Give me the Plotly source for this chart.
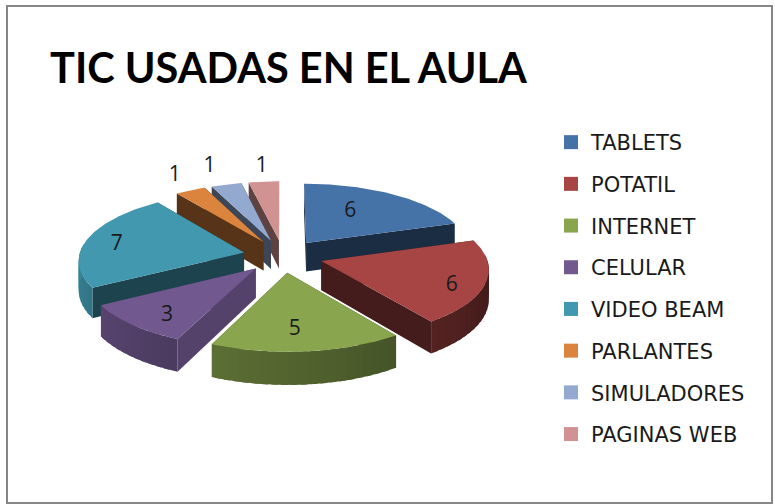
import numpy as np
import plotly.graph_objects as go

categories = ["TABLETS", "POTATIL", "INTERNET", "CELULAR", "VIDEO BEAM", "PARLANTES", "SIMULADORES", "PAGINAS WEB"]
values = [6, 6, 5, 3, 7, 1, 1, 1]
colors = ["#4572A7", "#A64543", "#89A54E", "#71588F", "#4198AF", "#DB843D", "#93A9CF", "#D19392"]
wall_shades = [0.40, 0.42, 0.45, 0.75, 0.45, 0.40, 0.42, 0.45]
label_radius = [96, 136, 122, 131, 131.5, 214, 224, 213]
label_angle = [30.3, 114.7, 177, 217.6, 278.7, 331.3, 341.2, 354.5]
title_text = "TIC USADAS EN EL AULA"

W, H = 775, 504
CX, CY, R, EXPL, K, P, DEPTH = 283, 256, 165, 40, 0.41, 0.10, 29


def project(wx, wy, z=0.0):
    wx, wy = np.asarray(wx, float), np.asarray(wy, float)
    f = 1 / (1 + P * wy / R)
    return CX + wx * f, CY - K * wy * f + z * f


def shade(hex_color, factor):
    r, g, b = (int(hex_color[i:i + 2], 16) for i in (1, 3, 5))
    return f"rgb({int(r * factor)},{int(g * factor)},{int(b * factor)})"


def polygon(xs, ys, color, name):
    return go.Scatter(x=list(xs) + [xs[0]], y=list(ys) + [ys[0]], mode="lines", fill="toself",
                      fillcolor=color, line=dict(color=color, width=0), name=name,
                      hoverinfo="skip", showlegend=False)


fractions = np.cumsum([0] + values) / sum(values) * 360
slices = []
for i, name in enumerate(categories):
    a0, a1 = fractions[i], fractions[i + 1]
    mid = np.radians((a0 + a1) / 2)
    slices.append((np.cos(mid), i, a0, a1, EXPL * np.sin(mid), EXPL * np.cos(mid)))
slices.sort(key=lambda s: -s[0])

fig = go.Figure()
for _, i, a0, a1, ax, ay in slices:
    name, col = categories[i], colors[i]
    th = np.radians(np.linspace(a0, a1, max(int(a1 - a0), 4) + 1))
    rim_x, rim_y = ax + R * np.sin(th), ay + R * np.cos(th)
    wall = shade(col, wall_shades[i])
    # radial walls
    for t in (th[0], th[-1]):
        ex, ey = ax + R * np.sin(t), ay + R * np.cos(t)
        x1, y1 = project([ax, ex], [ay, ey], 0)
        x2, y2 = project([ex, ax], [ey, ay], DEPTH)
        fig.add_trace(polygon(np.r_[x1, x2], np.r_[y1, y2], wall, name))
    # outer rim, shaded from dark (right) to lighter (left); segments overlap to hide seams
    for j in range(0, len(th) - 1, 3):
        seg = th[j:j + 6]
        mid_deg = np.degrees(th[j:j + 4].mean())
        if not 85 <= mid_deg <= 275:
            continue
        sx, sy = ax + R * np.sin(seg), ay + R * np.cos(seg)
        x1, y1 = project(sx, sy, 0)
        x2, y2 = project(sx[::-1], sy[::-1], DEPTH)
        fig.add_trace(polygon(np.r_[x1, x2], np.r_[y1, y2],
                              shade(col, 0.36 + 0.50 * (mid_deg - 90) / 180), name))
    # top face
    tx, ty = project(np.r_[ax, rim_x], np.r_[ay, rim_y], 0)
    fig.add_trace(polygon(tx, ty, col, name))

# value labels, placed from each slice's apex
lab_x, lab_y = [], []
for i, v in enumerate(values):
    a0, a1 = fractions[i], fractions[i + 1]
    mid = np.radians((a0 + a1) / 2)
    t = np.radians(label_angle[i])
    wx = EXPL * np.sin(mid) + label_radius[i] * np.sin(t)
    wy = EXPL * np.cos(mid) + label_radius[i] * np.cos(t)
    x, y = project(wx, wy)
    lab_x.append(float(x))
    lab_y.append(float(y))
fig.add_trace(go.Scatter(x=lab_x, y=lab_y, mode="text", text=[str(v) for v in values],
                         textposition="middle center", hoverinfo="skip", showlegend=False,
                         textfont=dict(family="Open Sans", size=21, color="#1a1a1a")))

# legend entries
for i, name in enumerate(categories):
    fig.add_trace(go.Scatter(x=[None], y=[None], mode="markers", name=name, legendgroup=name,
                             marker=dict(symbol="square", size=14, color=colors[i])))

fig.update_layout(
    width=W, height=H, margin=dict(l=0, r=0, t=0, b=0),
    paper_bgcolor="white", plot_bgcolor="white",
    title=dict(text=f"<b>{title_text}</b>", x=50 / W, xanchor="left", xref="paper",
               y=1 - 68 / H, yanchor="middle", yref="paper",
               font=dict(family="Lato", size=41.5, color="black")),
    xaxis=dict(range=[0, W], visible=False, fixedrange=True),
    yaxis=dict(range=[H, 0], visible=False, fixedrange=True),
    legend=dict(x=551 / W, y=1 - 122 / H, xanchor="left", yanchor="top", traceorder="grouped",
                tracegroupgap=11.4, itemwidth=30, bgcolor="rgba(0,0,0,0)",
                font=dict(family="DejaVu Sans", size=21, color="#1a1a1a")),
    shapes=[dict(type="rect", xref="x", yref="y", x0=7, y0=6, x1=772, y1=503,
                 line=dict(color="#868686", width=2), fillcolor="rgba(0,0,0,0)")],
)
fig.write_html("out.html", config={"displayModeBar": False},
               post_script="document.body.style.margin='0';")
